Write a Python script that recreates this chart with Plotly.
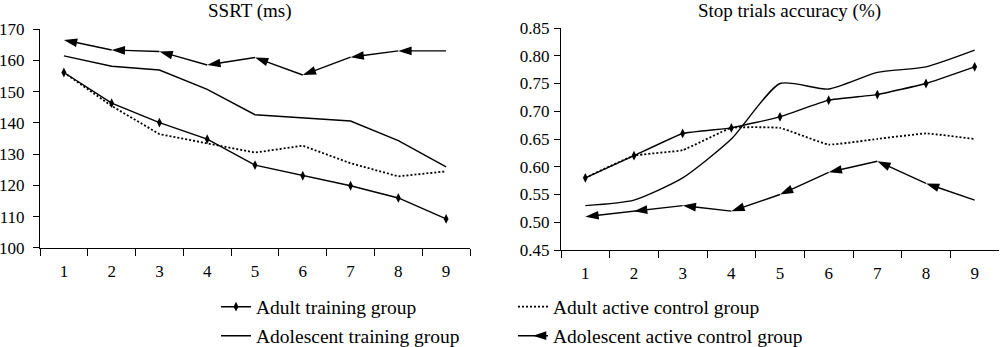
import plotly.graph_objects as go

# Training sessions (x categories)
sessions = ["1", "2", "3", "4", "5", "6", "7", "8", "9"]

# SSRT (ms) per session
ssrt_adult_train = [156.1, 146.3, 140.1, 134.8, 126.5, 123.1, 119.9, 116.0, 109.3]
ssrt_adult_ctrl = [156.1, 145.4, 136.4, 133.5, 130.5, 132.7, 127.1, 122.9, 124.5]
ssrt_adol_train = [161.4, 158.1, 156.9, 150.7, 142.6, 141.5, 140.6, 134.3, 125.9]
ssrt_adol_ctrl = [166.5, 163.3, 162.8, 158.5, 160.9, 155.3, 161.0, 163.0, 163.0]

# Stop trials accuracy per session
acc_adult_train = [0.58, 0.62, 0.66, 0.67, 0.69, 0.72, 0.73, 0.75, 0.78]
acc_adult_ctrl = [0.58, 0.62, 0.63, 0.67, 0.67, 0.64, 0.65, 0.66, 0.65]
acc_adol_train = [0.53, 0.54, 0.58, 0.65, 0.75, 0.74, 0.77, 0.78, 0.81]
acc_adol_ctrl = [0.51, 0.52, 0.53, 0.52, 0.55, 0.59, 0.61, 0.57, 0.54]

group_names = [
    "Adult training group",
    "Adult active control group",
    "Adolescent training group",
    "Adolescent active control group",
]
panel_titles = ["SSRT (ms)", "Stop trials accuracy (%)"]

FONT = "Liberation Serif"
INK = "black"

fig = go.Figure()


def add_panel(xa, ya, adult_train, adult_ctrl, adol_train, adol_ctrl, legend_on, smooth):
    shape = "spline" if smooth else "linear"
    # Adult training group: solid line with diamonds
    fig.add_trace(go.Scatter(
        x=sessions, y=adult_train, xaxis=xa, yaxis=ya, name=group_names[0],
        mode="lines+markers", line=dict(color=INK, width=1.4, shape=shape, smoothing=0.3),
        marker=dict(symbol="diamond-tall", size=7, color=INK),
        showlegend=legend_on, legend="legend",
    ))
    # Adult active control group: dotted line
    fig.add_trace(go.Scatter(
        x=sessions, y=adult_ctrl, xaxis=xa, yaxis=ya, name=group_names[1],
        mode="lines", line=dict(color=INK, width=1.8, dash="2px,2px", shape=shape, smoothing=0.3),
        showlegend=legend_on, legend="legend2",
    ))
    # Adolescent training group: plain solid line
    fig.add_trace(go.Scatter(
        x=sessions, y=adol_train, xaxis=xa, yaxis=ya, name=group_names[2],
        mode="lines", line=dict(color=INK, width=1.4, shape=shape, smoothing=0.6),
        showlegend=legend_on, legend="legend3",
    ))
    # Adolescent active control group: arrowheads pointing back along each segment
    fig.add_trace(go.Scatter(
        x=sessions[::-1], y=adol_ctrl[::-1], xaxis=xa, yaxis=ya, name=group_names[3],
        mode="lines+markers", line=dict(color=INK, width=1.4),
        marker=dict(symbol="arrow", size=14, color=INK, angleref="previous",
                    line=dict(width=0)),
        showlegend=False,
    ))


add_panel("x", "y", ssrt_adult_train, ssrt_adult_ctrl, ssrt_adol_train, ssrt_adol_ctrl, True, False)
add_panel("x2", "y2", acc_adult_train, acc_adult_ctrl, acc_adol_train, acc_adol_ctrl, False, True)

# Legend key for the arrow series: a left-pointing arrowhead on a short line
fig.add_trace(go.Scatter(
    x=[None], y=[None], name=group_names[3], mode="lines+markers",
    line=dict(color=INK, width=1.4),
    marker=dict(symbol="arrow", size=14, color=INK, angle=-90, line=dict(width=0)),
    showlegend=True, legend="legend4",
))

xcommon = dict(
    type="category", range=[-0.5, 8.5], tickson="boundaries",
    ticks="outside", ticklen=7, tickwidth=1, tickcolor=INK,
    showline=True, linecolor=INK, linewidth=1, showgrid=False, zeroline=False,
    tickfont=dict(family=FONT, size=17, color=INK), automargin=False,
    ticklabelstandoff=8,
)
ycommon = dict(
    ticks="outside", ticklen=6, tickwidth=1, tickcolor=INK,
    showline=True, linecolor=INK, linewidth=1, showgrid=False, zeroline=False,
    tickfont=dict(family=FONT, size=17, color=INK), automargin=False,
)

fig.update_layout(
    width=1000, height=347,
    margin=dict(l=0, r=0, t=0, b=0, autoexpand=False),
    paper_bgcolor="white", plot_bgcolor="white",
    font=dict(family=FONT, color=INK),
    xaxis=dict(domain=[0.040, 0.470], anchor="y", **xcommon),
    yaxis=dict(domain=[0.2853, 0.9164], anchor="x", range=[100, 170], dtick=10,
               ticklabelstandoff=5, **ycommon),
    xaxis2=dict(domain=[0.561, 0.999], anchor="y2", **xcommon),
    yaxis2=dict(domain=[0.2795, 0.9193], anchor="x2", range=[0.45, 0.85], dtick=0.05,
                tickformat=".2f", ticklabelstandoff=1, **ycommon),
    annotations=[
        dict(text=panel_titles[0], x=0.250, y=1 - 11 / 347, xref="paper", yref="paper",
             showarrow=False, xanchor="center", yanchor="middle",
             font=dict(family=FONT, size=19, color=INK)),
        dict(text=panel_titles[1], x=0.789, y=1 - 11 / 347, xref="paper", yref="paper",
             showarrow=False, xanchor="center", yanchor="middle",
             font=dict(family=FONT, size=19, color=INK)),
    ],
)

legend_style = dict(font=dict(family=FONT, size=19.5, color=INK), bgcolor="rgba(0,0,0,0)",
                    borderwidth=0, xanchor="left", yanchor="middle", itemclick=False,
                    itemdoubleclick=False)
fig.update_layout(
    legend=dict(x=0.216, y=1 - 307 / 347, **legend_style),
    legend2=dict(x=0.513, y=1 - 307 / 347, **legend_style),
    legend3=dict(x=0.216, y=1 - 336 / 347, **legend_style),
    legend4=dict(x=0.513, y=1 - 336 / 347, **legend_style),
)

fig.write_html("out.html")
